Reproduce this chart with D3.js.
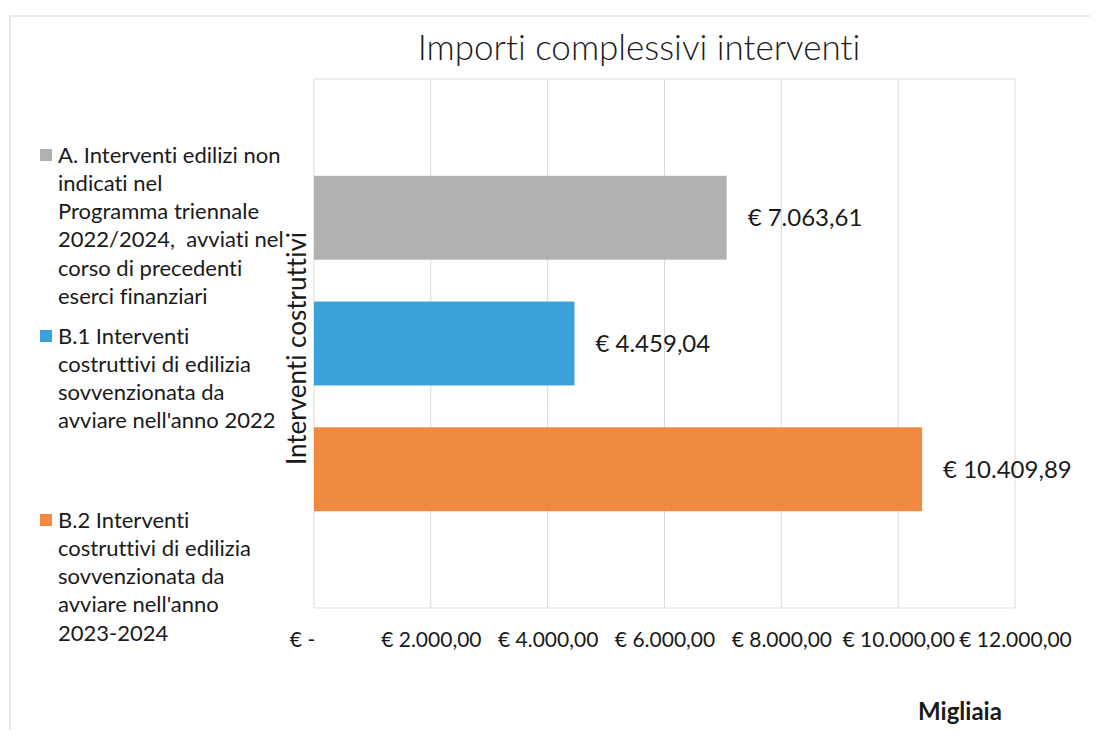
<!DOCTYPE html>
<html>
<head>
<meta charset="utf-8">
<script src="https://cdn.jsdelivr.net/npm/d3@7"></script>
<style>
	body { margin: 0; background: #fff; }
	svg text { font-family: Lato, "Open Sans", sans-serif; fill: #1a1a1a; font-variant-ligatures: none; white-space: pre; }
</style>
</head>
<body>
<div id="chart"></div>
<script>

const categories = ['Interventi costruttivi'],
	series = ['A', 'B.1', 'B.2'],
	values = [7063.61, 4459.04, 10409.89],
	legendLines = [
		['A. Interventi edilizi non', 'indicati nel', 'Programma triennale', '2022/2024,  avviati nel', 'corso di precedenti', 'eserci finanziari'],
		['B.1 Interventi', 'costruttivi di edilizia', 'sovvenzionata da', 'avviare nell\'anno 2022'],
		['B.2 Interventi', 'costruttivi di edilizia', 'sovvenzionata da', 'avviare nell\'anno', '2023-2024']
	],
	xTicks = [0, 2000, 4000, 6000, 8000, 10000, 12000];

const W = 1100,
	H = 735,
	COLORS = ['#b1b1b1', '#3ba1db', '#f08a40'],
	plot = { left: 314, right: 1015, top: 79, bottom: 608 };

let svg = d3.select('#chart').append('svg')
	.attr('width', W)
	.attr('height', H);

// faint chart-area border (scan shows only top and left)
svg.append('path')
	.attr('d', 'M10,730V16H1090')
	.attr('fill', 'none')
	.attr('stroke', '#e4e4e4')
	.attr('stroke-width', 1.5);

let x = d3.scaleLinear()
	.domain([0, 12000])
	.range([plot.left, plot.right]);

let y0 = d3.scaleBand()
	.domain(categories)
	.range([plot.top, plot.bottom]);

let y1 = d3.scaleBand()
	.domain(series)
	.range([0, y0.bandwidth()])
	.paddingInner(0.333)
	.paddingOuter(0.77);

// euro format, italian style
const itLocale = d3.formatLocale({ decimal: ',', thousands: '.', grouping: [3], currency: ['€ ', ''] });
const fmt = itLocale.format(',.2f');
const euro = v => v === 0 ? '€ -' : '€ ' + fmt(v);

// gridlines
svg.append('g')
	.selectAll('line')
	.data(xTicks)
	.join('line')
	.attr('x1', d => x(d))
	.attr('x2', d => x(d))
	.attr('y1', plot.top)
	.attr('y2', plot.bottom)
	.attr('stroke', '#d9d9d9')
	.attr('stroke-width', 1);

svg.append('g')
	.selectAll('line')
	.data([plot.top, plot.bottom])
	.join('line')
	.attr('x1', plot.left)
	.attr('x2', plot.right)
	.attr('y1', d => d)
	.attr('y2', d => d)
	.attr('stroke', '#dedede');

// x axis labels
let xAxis = svg.append('g')
	.attr('transform', 'translate(0,' + (plot.bottom + 24) + ')')
	.call(d3.axisBottom(x).tickValues(xTicks).tickFormat(euro).tickSize(0).tickPadding(0));
xAxis.select('.domain').remove();
xAxis.selectAll('text')
	.attr('font-size', 21)
	.attr('font-family', 'Lato, sans-serif')
	.attr('fill', '#1a1a1a')
	.attr('dx', d => d === 0 ? -12 : 0);

// bars
let g = svg.append('g')
	.attr('transform', 'translate(0,' + y0(categories[0]) + ')');

g.selectAll('rect')
	.data(values)
	.join('rect')
	.attr('x', x(0))
	.attr('y', (d, i) => y1(series[i]))
	.attr('width', d => x(d) - x(0))
	.attr('height', y1.bandwidth())
	.attr('fill', (d, i) => COLORS[i]);

g.selectAll('text.val')
	.data(values)
	.join('text')
	.attr('class', 'val')
	.attr('x', d => x(d) + 21)
	.attr('y', (d, i) => y1(series[i]) + y1.bandwidth() / 2)
	.attr('dy', '0.35em')
	.attr('font-size', 24)
	.text(euro);

// category label (rotated)
svg.append('text')
	.attr('transform', 'translate(306,' + (y0(categories[0]) + y0.bandwidth() / 2 + 5) + ') rotate(-90)')
	.attr('text-anchor', 'middle')
	.attr('font-size', 26)
	.text(categories[0]);

// title
svg.append('text')
	.attr('x', 639)
	.attr('y', 60)
	.attr('text-anchor', 'middle')
	.attr('font-size', 35)
	.attr('font-weight', 300)
	.text('Importi complessivi interventi');

// axis units
svg.append('text')
	.attr('x', 960)
	.attr('y', 720)
	.attr('text-anchor', 'middle')
	.attr('font-size', 24)
	.attr('font-weight', 700)
	.text('Migliaia');

// legend
const LEGEND_TOP = [155, 336, 520],
	LINE_H = 28.2;

let legend = svg.append('g');
legendLines.forEach((lines, i) => {
	legend.append('rect')
		.attr('x', 40)
		.attr('y', LEGEND_TOP[i] - 6)
		.attr('width', 12)
		.attr('height', 12)
		.attr('fill', COLORS[i]);
	legend.append('text')
		.attr('font-size', 22)
		.selectAll('tspan')
		.data(lines)
		.join('tspan')
		.attr('x', 58)
		.attr('y', (d, j) => LEGEND_TOP[i] + j * LINE_H)
		.attr('dy', '0.35em')
		.text(d => d);
});

</script>
</body>
</html>
